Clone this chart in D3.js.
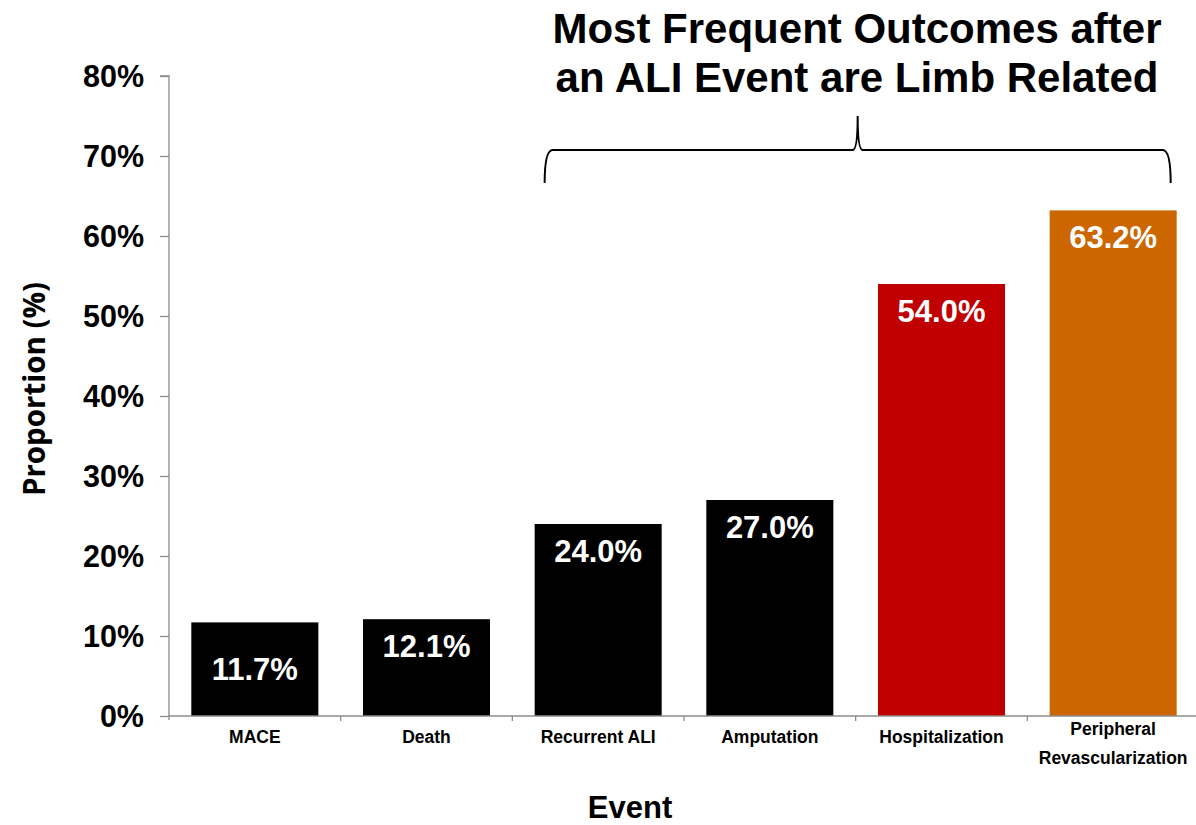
<!DOCTYPE html>
<html>
<head>
<meta charset="utf-8">
<script src="https://cdn.jsdelivr.net/npm/d3@7"></script>
<style>
  html, body { margin: 0; padding: 0; background: #fff; }
  svg { display: block; }
</style>
</head>
<body>
<svg id="chart" width="1196" height="825"></svg>
<script>
// Outcome categories and observed proportions (%)
const categories = ["MACE", "Death", "Recurrent ALI", "Amputation", "Hospitalization", "Peripheral Revascularization"];
const proportions = [11.7, 12.1, 24.0, 27.0, 54.0, 63.2];
const barColors = ["#000000", "#000000", "#000000", "#000000", "#C00000", "#CC6600"];
const yTicks = [0, 10, 20, 30, 40, 50, 60, 70, 80];
const titleLines = ["Most Frequent Outcomes after", "an ALI Event are Limb Related"];
// categories grouped under the brace (limb-related outcomes)
const braceFrom = "Recurrent ALI";
const braceTo = "Peripheral Revascularization";

const svg = d3.select("#chart");
const axisColor = "#8c8c8c";
const font = "Arial, 'Liberation Sans', Helvetica, sans-serif";

const x = d3.scaleBand()
  .domain(categories)
  .range([169, 1199])
  .paddingInner(0.26)
  .paddingOuter(0.13);

const y = d3.scaleLinear().domain([0, 80]).range([716, 76]);

// Bars
svg.append("g").selectAll("rect")
  .data(categories)
  .join("rect")
  .attr("x", d => x(d))
  .attr("width", x.bandwidth())
  .attr("y", (d, i) => y(proportions[i]))
  .attr("height", (d, i) => y(0) - y(proportions[i]))
  .attr("fill", (d, i) => barColors[i]);

// Value labels inside bars; the short first bar has its label centred vertically
svg.append("g").selectAll("text")
  .data(categories)
  .join("text")
  .attr("x", d => x(d) + x.bandwidth() / 2)
  .attr("y", (d, i) => i === 0
    ? (y(proportions[i]) + y(0)) / 2 + 11
    : y(proportions[i]) + 37.5)
  .attr("text-anchor", "middle")
  .attr("fill", "#fff")
  .attr("font-family", font)
  .attr("font-weight", "bold")
  .attr("font-size", 31)
  .text((d, i) => proportions[i].toFixed(1) + "%");

// Y axis
const yAxis = svg.append("g")
  .attr("transform", "translate(169,0)")
  .call(d3.axisLeft(y).tickValues(yTicks).tickSize(9).tickPadding(16)
    .tickFormat(d => d + "%"));
yAxis.select(".domain").attr("stroke", axisColor).attr("stroke-width", 1.3)
  .attr("d", `M-9,${y(80)}H0V${y(0) + 4}`);
yAxis.selectAll(".tick line").attr("stroke", axisColor).attr("stroke-width", 1.3);
yAxis.selectAll(".tick text")
  .attr("font-family", font)
  .attr("font-weight", "bold")
  .attr("font-size", 30.5)
  .attr("fill", "#000")
  .attr("dy", "0.36em");

// X axis line with boundary ticks between categories
const xAxisG = svg.append("g");
xAxisG.append("line")
  .attr("x1", 169).attr("x2", 1196)
  .attr("y1", y(0)).attr("y2", y(0))
  .attr("stroke", axisColor).attr("stroke-width", 1.3);
const step = x.step();
const boundaries = d3.range(categories.length + 1).map(k => x.range()[0] + k * step);
xAxisG.selectAll("line.b")
  .data(boundaries.slice(1))
  .join("line")
  .attr("class", "b")
  .attr("x1", d => d).attr("x2", d => d)
  .attr("y1", y(0)).attr("y2", y(0) + 5)
  .attr("stroke", axisColor).attr("stroke-width", 1.3);

// Category labels (wrapped where the name has two words and is long)
const catLabels = svg.append("g");
categories.forEach(c => {
  const cx = x(c) + x.bandwidth() / 2;
  const lines = c.length > 20 ? c.split(" ") : [c];
  const t = catLabels.append("text")
    .attr("text-anchor", "middle")
    .attr("font-family", font)
    .attr("font-weight", "bold")
    .attr("font-size", 17.5)
    .attr("fill", "#000");
  lines.forEach((ln, j) => {
    t.append("tspan")
      .attr("x", cx)
      .attr("y", (lines.length === 1 ? 743 : 735) + j * 29)
      .text(ln);
  });
});

// Axis titles
svg.append("text")
  .attr("x", 630).attr("y", 818)
  .attr("text-anchor", "middle")
  .attr("font-family", font)
  .attr("font-weight", "bold")
  .attr("font-size", 31)
  .text("Event");

svg.append("text")
  .attr("transform", "translate(45,389) rotate(-90)")
  .attr("text-anchor", "middle")
  .attr("font-family", "'Open Sans', 'DejaVu Sans', sans-serif")
  .attr("font-weight", "bold")
  .attr("font-size", 29.5)
  .text("Proportion (%)");

// Title
const title = svg.append("text")
  .attr("text-anchor", "middle")
  .attr("font-family", "'Liberation Sans Narrow', 'Arial Narrow', Arial, sans-serif")
  .attr("font-weight", "bold")
  .attr("font-size", 42)
  .attr("fill", "#000");
titleLines.forEach((ln, j) => {
  title.append("tspan").attr("x", 857).attr("y", 43 + j * 49).text(ln);
});

// Curly brace spanning the limb-related outcomes
const bx0 = x(braceFrom) + 10;
const bx1 = x(braceTo) + x.bandwidth() - 6;
const bmid = (bx0 + bx1) / 2;
const yBottom = 183, yLine = 150, yTip = 116, r = 8;
const brace = d3.path();
brace.moveTo(bx0, yBottom);
brace.quadraticCurveTo(bx0, yLine, bx0 + r, yLine);
brace.lineTo(bmid - 5, yLine);
brace.quadraticCurveTo(bmid, yLine, bmid, yTip);
brace.quadraticCurveTo(bmid, yLine, bmid + 5, yLine);
brace.lineTo(bx1 - r, yLine);
brace.quadraticCurveTo(bx1, yLine, bx1, yBottom);
svg.append("path")
  .attr("d", brace.toString())
  .attr("fill", "none")
  .attr("stroke", "#000")
  .attr("stroke-width", 2);
</script>
</body>
</html>
